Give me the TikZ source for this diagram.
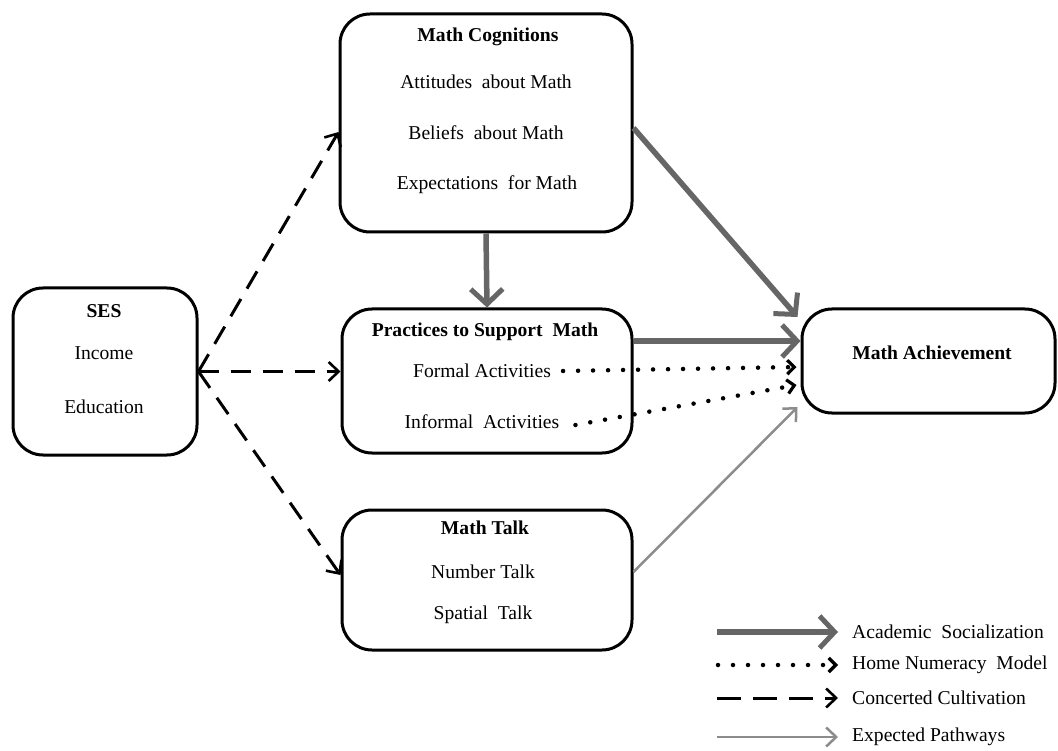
\documentclass[tikz,border=0pt]{standalone}
\usepackage{fontspec}
\setmainfont{Liberation Serif}
\usetikzlibrary{arrows.meta}
\definecolor{acadgray}{RGB}{102,102,102}
\definecolor{expgray}{RGB}{140,140,140}
\begin{document}
\begin{tikzpicture}[x=1pt,y=-1pt,
  box/.style={draw, line width=3pt, rounded corners=30pt, inner sep=0pt},
  txt/.style={font=\fontsize{19.6}{22}\selectfont, inner sep=0pt},
  ttl/.style={font=\fontsize{19.6}{22}\selectfont\bfseries, inner sep=0pt},
  acad/.style={draw=acadgray, line width=5.5pt, -{Straight Barb[length=15pt,width=32pt,line width=5pt]}},
  homenum/.style={draw=black, line width=4.5pt, line cap=round, dash pattern=on 0pt off 15pt, -{Straight Barb[length=7pt,width=14pt,line width=3.2pt]}},
  concert/.style={draw=black, line width=3pt, dash pattern=on 20pt off 12pt, -{Straight Barb[length=10pt,width=19pt,line width=2.6pt]}},
  expect/.style={draw=expgray, line width=2.5pt, -{Straight Barb[length=10pt,width=19pt,line width=2.5pt]}}
]
\useasboundingbox (0,0) rectangle (1058,751);

% boxes
\node[box, minimum width=184pt, minimum height=167pt] (ses) at (105,371.5) {};
\node[box, minimum width=292pt, minimum height=218pt] (cog) at (486,123) {};
\node[box, minimum width=290pt, minimum height=144pt] (prac) at (487,381) {};
\node[box, minimum width=290pt, minimum height=140pt] (talk) at (487,580) {};
\node[box, minimum width=253pt, minimum height=104pt] (ach) at (928.5,361) {};

% texts
\node[ttl] (sesT) at (104,311) {SES};
\node[txt] (inc) at (104,353) {Income};
\node[txt] (edu) at (104,407) {Education};

\node[ttl] (cogT) at (488,37) {Math Cognitions};
\node[txt] (att) at (486,82) {Attitudes\ \ about Math};
\node[txt] (bel) at (486,133) {Beliefs\ \ about Math};
\node[txt] (exp) at (487,185) {Expectations\ \ for Math};

\node[ttl] (pracT) at (485,332) {Practices to Support\ \ Math};
\node[txt] (form) at (482,371) {Formal Activities};
\node[txt] (inf) at (482,422) {Informal\ \ Activities};

\node[ttl] (talkT) at (485,528) {Math Talk};
\node[txt] (num) at (483,572) {Number Talk};
\node[txt] (spa) at (483,615) {Spatial\ \ Talk};

\node[ttl] (achT) at (932,353) {Math Achievement};

% connectors
\draw[concert] (ses.east) -- ([yshift=-9pt]cog.west);
\draw[concert] (ses.east) -- (ses.east -| prac.west);
\draw[concert] (ses.east) -- ([yshift=5pt]talk.west);

\draw[acad] (cog.south) -- (prac.north);
\draw[acad] ([yshift=-5pt]cog.east) -- ([xshift=-3pt,yshift=44pt]ach.west);
\draw[acad] ([yshift=40pt]prac.east) -- ([yshift=40pt]prac.east -| ach.west);

\draw[homenum] ([xshift=12pt]form.east) -- ([xshift=-4pt,yshift=-6pt]ach.west);
\draw[homenum] ([xshift=16pt,yshift=-3pt]inf.east) -- ([xshift=-4pt,yshift=-24pt]ach.west);

\draw[expect] ([yshift=8pt]talk.east) -- ([xshift=-3pt,yshift=-46pt]ach.west);

% legend
\coordinate (l1a) at (717,632); \coordinate (l1b) at (838,632);
\coordinate (l2a) at (718,665); \coordinate (l2b) at (838,665);
\coordinate (l3a) at (717,698); \coordinate (l3b) at (838,698);
\coordinate (l4a) at (717,737); \coordinate (l4b) at (838,737);
\draw[acad] (l1a) -- (l1b);
\draw[homenum] (l2a) -- (l2b);
\draw[concert, dash pattern=on 24pt off 12pt] (l3a) -- (l3b);
\draw[expect] (l4a) -- (l4b);
\node[txt, anchor=west] (lt1) at (852,632) {Academic\ \ Socialization};
\node[txt, anchor=west] (lt2) at (852,665) {Home Numeracy\ \ Model};
\node[txt, anchor=west] (lt3) at (852,698) {Concerted Cultivation};
\node[txt, anchor=west] (lt4) at (852,737) {Expected Pathways};
\end{tikzpicture}
\end{document}
